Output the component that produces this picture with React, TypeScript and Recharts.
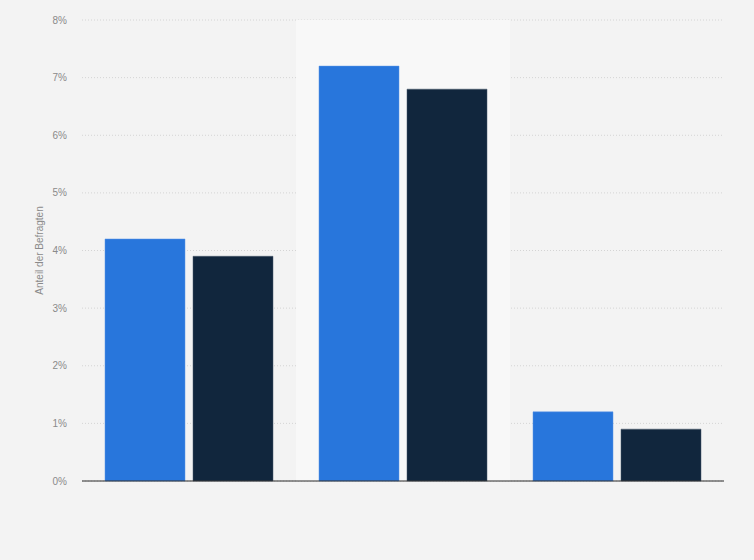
import React from "react";
import { BarChart, Bar, XAxis, YAxis, CartesianGrid, ReferenceArea } from "recharts";

const categories = ["Gruppe 1", "Gruppe 2", "Gruppe 3"];
const seriesA = [4.2, 7.2, 1.2];
const seriesB = [3.9, 6.8, 0.9];
const yTicks = [0, 1, 2, 3, 4, 5, 6, 7, 8];

const data = categories.map((c, i) => ({ name: c, a: seriesA[i], b: seriesB[i] }));

export default function App() {
  return (
    <div style={{ position: "absolute", left: 0, top: 0, width: 754, height: 560, background: "#f3f3f3" }}>
      <BarChart
        width={754}
        height={560}
        data={data}
        margin={{ top: 20, right: 30, left: 0, bottom: 0 }}
        barCategoryGap={23}
        barGap={8}
        style={{ fontFamily: "'Liberation Sans', Arial, sans-serif" }}
      >
        <ReferenceArea x1={categories[1]} x2={categories[1]} fill="#f8f8f8" fillOpacity={1} stroke="none" ifOverflow="extendDomain" />
        <CartesianGrid vertical={false} stroke="#d4d4d4" strokeDasharray="1 2" />
        <XAxis
          dataKey="name"
          height={79}
          tick={false}
          tickLine={false}
          axisLine={{ stroke: "#2a2a2a", strokeWidth: 1 }}
        />
        <YAxis
          width={82}
          domain={[0, 8]}
          ticks={yTicks}
          tickFormatter={(v) => `${v}%`}
          axisLine={false}
          tickLine={false}
          tickMargin={9}
          tick={{ fill: "#8a8a8a", fontSize: 10 }}
          label={{ value: "Anteil der Befragten", angle: -90, position: "center", dx: -2, fill: "#8a8a8a", fontSize: 10 }}
        />
        <Bar dataKey="a" fill="#2876dc" stroke="#5a95e6" strokeWidth={0.5} isAnimationActive={false} />
        <Bar dataKey="b" fill="#11263d" stroke="#4a5a6c" strokeWidth={0.5} isAnimationActive={false} />
      </BarChart>
    </div>
  );
}
